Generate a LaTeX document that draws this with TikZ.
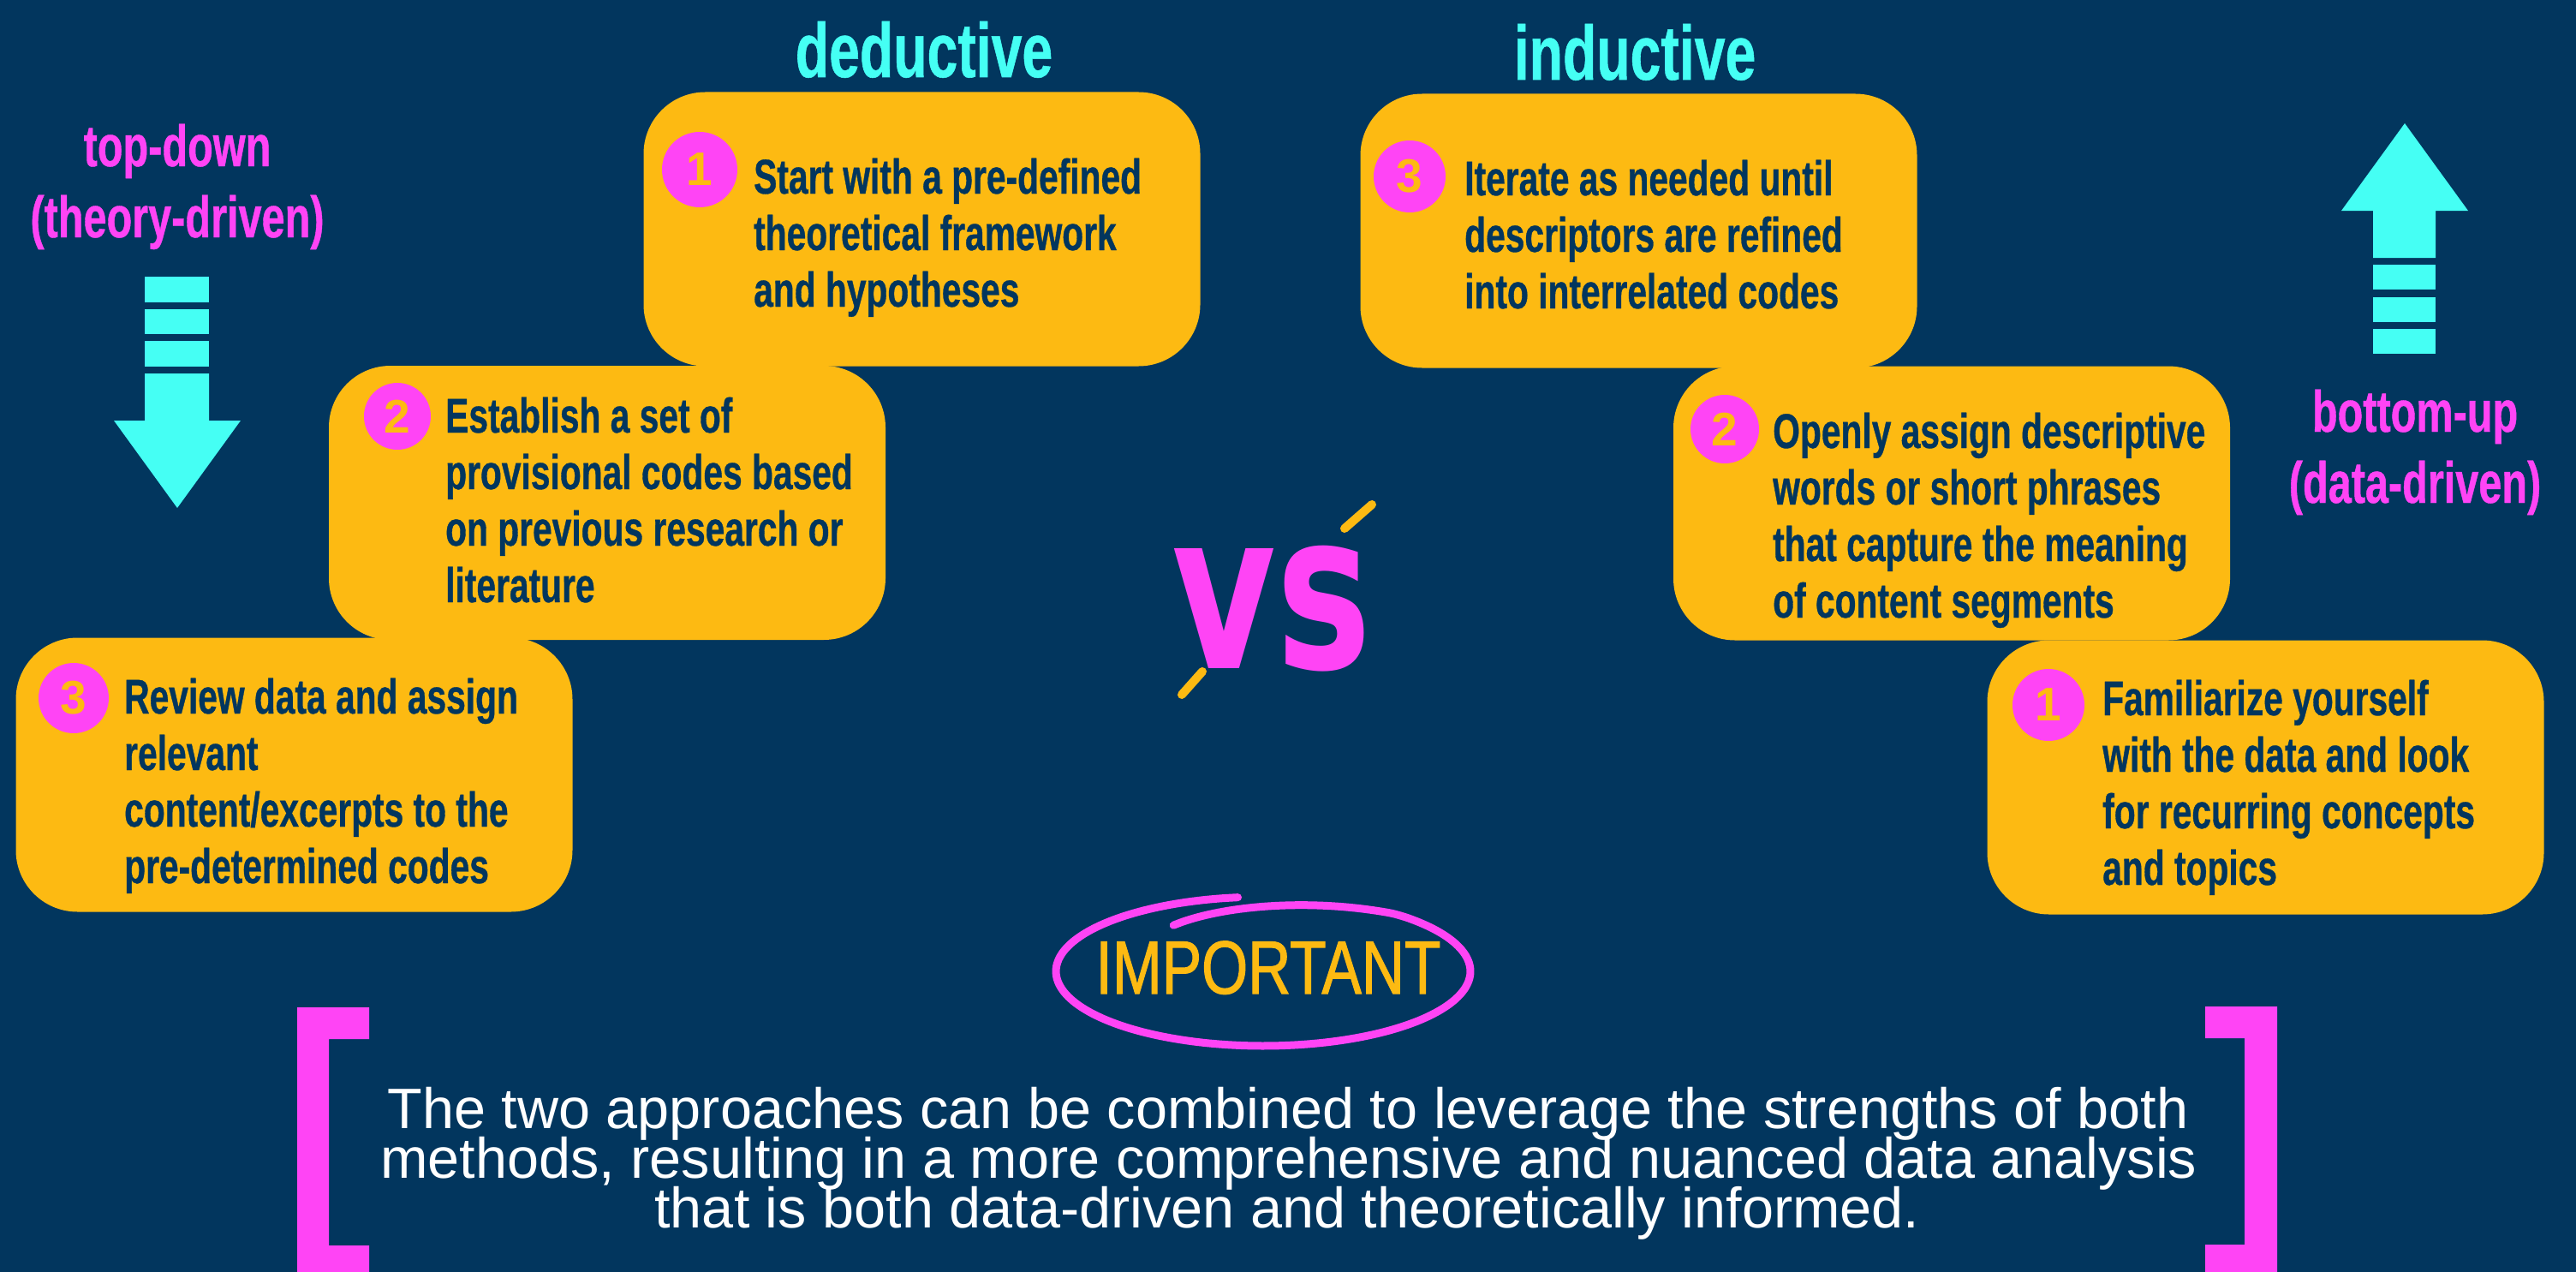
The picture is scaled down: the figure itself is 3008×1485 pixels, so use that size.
\documentclass[tikz,border=0pt]{standalone}
\usepackage{fontspec}
\setmainfont{Liberation Sans}
\newfontfamily\condfont[FakeStretch=0.715, FakeBold=0.6]{Liberation Sans}
\newfontfamily\vsfont[FakeStretch=0.73]{DejaVu Sans}
\newfontfamily\notefont[FakeStretch=0.79, FakeBold=1.2]{Liberation Sans}

\definecolor{bgblue}{RGB}{2,54,94}
\definecolor{boxyellow}{RGB}{253,186,18}
\definecolor{hotpink}{RGB}{255,68,245}
\definecolor{aqua}{RGB}{69,255,244}

\tikzset{
	stepbox/.style = {fill = boxyellow, rounded corners = 72pt, minimum width = 650pt, minimum height = 320pt, inner sep = 0pt},
	stepnum/.style = {circle, fill = hotpink, text = boxyellow, inner sep = 0pt, font = \bfseries\fontsize{55}{55}\selectfont},
	steptext/.style = {anchor = base west, align = left, inner sep = 0pt, text = bgblue, font = \condfont\bfseries\fontsize{57}{66}\selectfont},
	heading/.style = {anchor = base, inner sep = 0pt, text = aqua, font = \condfont\bfseries\fontsize{90}{90}\selectfont},
	direction/.style = {anchor = base, inner sep = 0pt, text = hotpink, font = \condfont\bfseries\fontsize{68}{68}\selectfont},
	summary/.style = {anchor = base, inner sep = 0pt, text = white, font = \fontsize{66.6}{58}\selectfont}
}

\begin{document}
\begin{tikzpicture}[x = 1pt, y = -1pt]
		\fill [bgblue] (0, 0) rectangle (3008, 1485);
		\useasboundingbox (0, 0) rectangle (3008, 1485);

		% deductive side
		\node [heading] (deductive) at (1079, 90) {deductive};
		\node [stepbox] (ded1) at (1076.5, 267.5) {};
		\node [stepbox] (ded2) at (709, 587) {};
		\node [stepbox] (ded3) at (343.5, 904.5) {};
		\node [stepnum, minimum size = 88pt] (num1) at (817, 198) {1};
		\node [stepnum, minimum size = 78pt] (num2) at (464, 486) {2};
		\node [stepnum, minimum size = 82pt] (num3) at (86, 815) {3};
		% base of a text node = base of its last line
		\node [steptext] (text1) at (880, 358) {Start with a pre-defined\\theoretical framework\\and hypotheses};
		\node [steptext] (text2) at (520, 703) {Establish a set of\\provisional codes based\\on previous research or\\literature};
		\node [steptext] (text3) at (145, 1031) {Review data and assign\\relevant\\content/excerpts to the\\pre-determined codes};

		% inductive side
		\node [heading] (inductive) at (1909, 93) {inductive};
		\node [stepbox] (ind3) at (1913.5, 269.5) {};
		\node [stepbox] (ind2) at (2279, 587.5) {};
		\node [stepbox] (ind1) at (2645.5, 907.5) {};
		\node [stepnum, minimum size = 84pt] (numc) at (1646, 206) {3};
		\node [stepnum, minimum size = 80pt] (numb) at (2014, 501) {2};
		\node [stepnum, minimum size = 84pt] (numa) at (2392, 823) {1};
		\node [steptext] (textc) at (1710, 360) {Iterate as needed until\\descriptors are refined\\into interrelated codes};
		\node [steptext] (textb) at (2070, 721) {Openly assign descriptive\\words or short phrases\\that capture the meaning\\of content segments};
		\node [steptext] (texta) at (2455, 1033) {Familiarize yourself\\with the data and look\\for recurring concepts\\and topics};

		% top-down arrow
		\node [direction] (topdown) at (207, 194) {top-down};
		\node [direction] (theory) at (207, 277) {(theory-driven)};
		\fill [aqua] (169, 323) rectangle (244, 353);
		\fill [aqua] (169, 361) rectangle (244, 390);
		\fill [aqua] (169, 398) rectangle (244, 428);
		\fill [aqua] (169, 436) -- (244, 436) -- (244, 491) -- (281, 491) -- (207, 593) -- (133, 491) -- (169, 491) -- cycle;

		% bottom-up arrow
		\node [direction] (bottomup) at (2820, 504) {bottom-up};
		\node [direction] (data) at (2820, 587) {(data-driven)};
		\fill [aqua] (2771, 384) rectangle (2844, 413);
		\fill [aqua] (2771, 347) rectangle (2844, 376);
		\fill [aqua] (2771, 309) rectangle (2844, 338);
		\fill [aqua] (2771, 301) -- (2844, 301) -- (2844, 246) -- (2882, 246) -- (2808, 144) -- (2734, 246) -- (2771, 246) -- cycle;

		% vs
		\node [anchor = base, inner sep = 0pt, text = hotpink, font = \vsfont\bfseries\fontsize{256}{256}\selectfont] (vs) at (1485, 780) {vs};
		\draw [boxyellow, line width = 10pt, line cap = round] (1570, 617) -- (1602, 589);
		\draw [boxyellow, line width = 10pt, line cap = round] (1380, 811) -- (1404, 784);

		% important
		\draw [hotpink, line width = 9pt, line cap = round] plot [smooth, domain = 97:485, samples = 80] ({1475 + 242*(1 - 0.245*max(0, (\x - 410)/75))*cos(\x)}, {1134 - 87*(1 - 0.245*max(0, (\x - 410)/75))*sin(\x)});
		\node [anchor = base, inner sep = 0pt, text = boxyellow, font = \notefont\fontsize{88}{88}\selectfont] (important) at (1481, 1160) {IMPORTANT};

		% brackets and summary
		\fill [hotpink] (347, 1176) -- (431, 1176) -- (431, 1213) -- (384, 1213) -- (384, 1454) -- (431, 1454) -- (431, 1485) -- (347, 1485) -- cycle;
		\fill [hotpink] (2575, 1175) -- (2659, 1175) -- (2659, 1485) -- (2575, 1485) -- (2575, 1453) -- (2621, 1453) -- (2621, 1212) -- (2575, 1212) -- cycle;
		\node [summary] (sum1) at (1504, 1317) {The two approaches can be combined to leverage the strengths of both};
		\node [summary] (sum2) at (1505, 1375) {methods, resulting in a more comprehensive and nuanced data analysis};
		\node [summary] (sum3) at (1503, 1433) {that is both data-driven and theoretically informed.};
	\end{tikzpicture}
\end{document}
